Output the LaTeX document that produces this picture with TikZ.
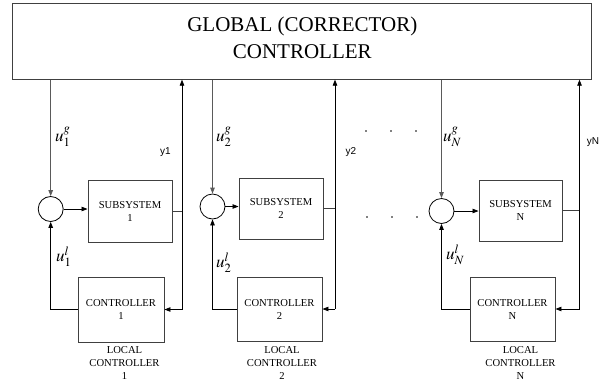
\documentclass[tikz,border=0pt]{standalone}
\usepackage{mathptmx}
\usepackage{fontspec}
\setmainfont{Liberation Serif}
\setsansfont{Liberation Sans}
\usepackage{tikz}
\usetikzlibrary{positioning, arrows.meta, calc}
\definecolor{wire}{HTML}{404040}
\definecolor{wiredown}{HTML}{5A5A5A}
\tikzset{
  gbox/.style={draw=wire, line width=0.9pt, align=center, inner sep=0pt, font=\fontsize{21}{27}\selectfont},
  block/.style={draw=wire, line width=0.9pt, align=center, inner sep=0pt, font=\fontsize{10.6}{13}\selectfont},
  sumnode/.style={draw=black, line width=0.8pt, circle, minimum size=25pt, inner sep=0pt},
  note/.style={align=center, inner sep=0pt, font=\fontsize{10.6}{12.7}\selectfont},
  ulabel/.style={inner sep=0pt, font=\fontsize{17}{17}\selectfont},
  ylabel/.style={inner sep=0pt, font=\sffamily\fontsize{10}{10}\selectfont},
  dotnode/.style={circle, fill=black, minimum size=1.6pt, inner sep=0pt},
  arrow/.style={-{Triangle[length=6pt, width=4.5pt]}, line width=0.8pt, draw=black},
  downarrow/.style={-{Triangle[length=6pt, width=4.5pt]}, line width=0.8pt, draw=wiredown},
  line/.style={line width=0.8pt, draw=wire},
}
\begin{document}
\begin{tikzpicture}[x=1pt, y=-1pt]
  \useasboundingbox (0,0) rectangle (607,381);
  % Global controller
  \node[gbox, minimum width=579pt, minimum height=76pt, text depth=6pt] (glob) at (302.3,41.2) {GLOBAL (CORRECTOR)\\CONTROLLER};

  % Unit 1
  \node[sumnode] (s1) at (50.7,209) {};
  \node[block, minimum width=84pt, minimum height=62pt] (sub1) at (130,211) {SUBSYSTEM\\1};
  \node[block, minimum width=86pt, minimum height=65pt] (ctl1) at (121,309.5) {CONTROLLER\\1};
  \node[note] (loc1) at (124.5,363) {LOCAL\\CONTROLLER\\1};
  \coordinate (o1) at (182,309.5);
  \draw[downarrow] (glob.south -| s1) -- (s1);
  \draw[arrow] (s1) -- (s1 -| sub1.west);
  \draw[line] (sub1.east) -- (sub1.east -| o1);
  \draw[arrow] (o1) -- (o1 |- glob.south);
  \draw[arrow] (o1) -- (ctl1.east);
  \draw[arrow] (ctl1.west) -| (s1);
  \node[ulabel, anchor=west] (ug1) at (55,137) {$u_1^g$};
  \node[ulabel, anchor=west] (ul1) at (56,257) {$u_1^l$};
  \node[ylabel] (y1) at (165.5,152) {y1};

  % Unit 2
  \node[sumnode] (s2) at (212.5,206.5) {};
  \node[block, minimum width=84pt, minimum height=61pt] (sub2) at (281,208.5) {SUBSYSTEM\\2};
  \node[block, minimum width=85pt, minimum height=64pt] (ctl2) at (279.5,309) {CONTROLLER\\2};
  \node[note] (loc2) at (282,363) {LOCAL\\CONTROLLER\\2};
  \coordinate (o2) at (335,309);
  \draw[downarrow] (glob.south -| s2) -- (s2);
  \draw[arrow] (s2) -- (s2 -| sub2.west);
  \draw[line] (sub2.east) -- (sub2.east -| o2);
  \draw[arrow] (o2) -- (o2 |- glob.south);
  \draw[arrow] (o2) -- (ctl2.east);
  \draw[arrow] (ctl2.west) -| (s2);
  \node[ulabel, anchor=west] (ug2) at (216,137) {$u_2^g$};
  \node[ulabel, anchor=west] (ul2) at (216,263) {$u_2^l$};
  \node[ylabel] (y2) at (351,152) {y2};

  % Dots between unit 2 and unit N
  \node[dotnode] (d1) at (366,131) {};
  \node[dotnode] (d2) at (391,131) {};
  \node[dotnode] (d3) at (416,131) {};
  \node[dotnode] (d4) at (367,217) {};
  \node[dotnode] (d5) at (392,217) {};
  \node[dotnode] (d6) at (417,217) {};

  % Unit N
  \node[sumnode] (sN) at (441.5,211) {};
  \node[block, minimum width=83pt, minimum height=61pt] (subN) at (520.5,210.5) {SUBSYSTEM\\N};
  \node[block, minimum width=85pt, minimum height=64pt] (ctlN) at (512.5,309) {CONTROLLER\\N};
  \node[note] (locN) at (520.5,363) {LOCAL\\CONTROLLER\\N};
  \coordinate (oN) at (579.5,309);
  \draw[downarrow] (glob.south -| sN) -- (sN);
  \draw[arrow] (sN) -- (sN -| subN.west);
  \draw[line] (subN.east) -- (subN.east -| oN);
  \draw[arrow] (oN) -- (oN |- glob.south);
  \draw[arrow] (oN) -- (ctlN.east);
  \draw[arrow] (ctlN.west) -| (sN);
  \node[ulabel, anchor=west] (ugN) at (443,137) {$u_N^g$};
  \node[ulabel, anchor=west] (ulN) at (446,255) {$u_N^l$};
  \node[ylabel] (yN) at (593,142) {yN};
\end{tikzpicture}
\end{document}
